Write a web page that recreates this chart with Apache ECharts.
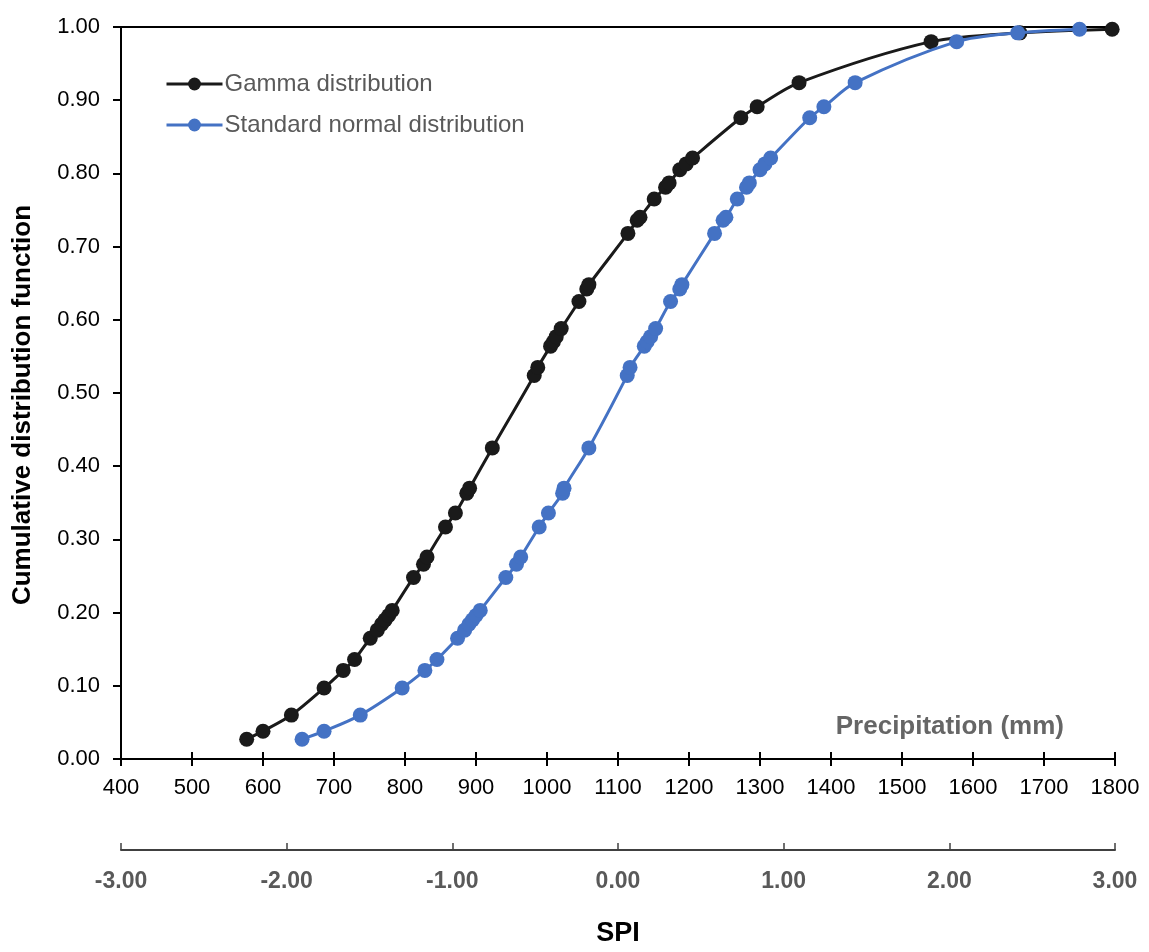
<!DOCTYPE html>
<html>
<head>
<meta charset="utf-8">
<script src="https://cdn.jsdelivr.net/npm/echarts@6/dist/echarts.min.js"></script>
<style>
html,body{margin:0;padding:0;background:#fff;}
#chart{width:1149px;height:952px;}
</style>
</head>
<body>
<div id="chart"></div>
<script>
// Cumulative probabilities (shared by both series)
var cdfValues = [0.027, 0.038, 0.060, 0.097, 0.121, 0.136, 0.165, 0.176, 0.184, 0.190, 0.196, 0.203, 0.248, 0.266, 0.276, 0.317, 0.336, 0.363, 0.370, 0.425, 0.524, 0.535, 0.564, 0.570, 0.577, 0.588, 0.625, 0.642, 0.648, 0.718, 0.736, 0.740, 0.765, 0.781, 0.787, 0.805, 0.813, 0.821, 0.876, 0.891, 0.924, 0.980, 0.992, 0.997];
// Precipitation (mm) positions of the Gamma distribution points
var gammaPrecip = [577, 600, 640, 686, 713, 729, 751, 761, 767, 772, 777, 782, 812, 826, 831, 857, 871, 887, 891, 923, 982, 987, 1005, 1009, 1013, 1020, 1045, 1056, 1059, 1114, 1127, 1131, 1151, 1167, 1172, 1187, 1196, 1205, 1273, 1296, 1355, 1541, 1666, 1796];
// Precipitation (mm) positions of the Standard normal distribution points
var normalPrecip = [655, 686, 737, 796, 828, 845, 874, 884, 890, 895, 900, 906, 942, 957, 963, 989, 1002, 1022, 1024, 1059, 1113, 1117, 1137, 1141, 1146, 1153, 1174, 1187, 1190, 1236, 1248, 1252, 1268, 1281, 1285, 1300, 1307, 1315, 1370, 1390, 1434, 1577, 1663, 1750];
var seriesNames = ['Gamma distribution', 'Standard normal distribution'];
var precipTicks = {min: 400, max: 1800, interval: 100};
var spiTicks = {min: -3, max: 3, interval: 1};
var cdfTicks = {min: 0, max: 1, interval: 0.1};

function pairs(xs, ys) {
  var out = [];
  for (var i = 0; i < xs.length; i++) out.push([xs[i], ys[i]]);
  return out;
}

var chart = echarts.init(document.getElementById('chart'), null, {renderer: 'canvas'});
var FONT = '"Liberation Sans", Arial, sans-serif';
var option = {
  backgroundColor: '#ffffff',
  animation: false,
  textStyle: {fontFamily: FONT},
  grid: {left: 121, right: 34, top: 27, bottom: 186, containLabel: false},
  legend: {
    left: 160, top: 67, orient: 'vertical', itemGap: 17,
    itemWidth: 56, itemHeight: 16,
    lineStyle: {width: 3},
    textStyle: {fontSize: 24, color: '#595959', fontFamily: FONT, padding: [0, 0, 0, -3]},
    data: seriesNames
  },
  xAxis: [
    {
      type: 'value', position: 'bottom',
      min: precipTicks.min, max: precipTicks.max, interval: precipTicks.interval,
      axisLine: {onZero: false, lineStyle: {color: '#000', width: 2}},
      axisTick: {show: true, inside: false, length: 7, lineStyle: {color: '#000', width: 2}},
      axisLabel: {fontSize: 22, color: '#000', margin: 18, fontFamily: FONT,
        formatter: function (v) { return String(v); }},
      splitLine: {show: false}
    },
    {
      type: 'value', position: 'bottom',
      min: precipTicks.min, max: precipTicks.max, interval: precipTicks.interval,
      axisLine: {show: false, onZero: false},
      axisTick: {show: true, inside: true, length: 7, lineStyle: {color: '#000', width: 2}},
      axisLabel: {show: false},
      splitLine: {show: false}
    },
    {
      type: 'value', position: 'top',
      min: precipTicks.min, max: precipTicks.max,
      axisLine: {show: true, onZero: false, lineStyle: {color: '#000', width: 2}},
      axisTick: {show: false}, axisLabel: {show: false}, splitLine: {show: false}
    },
    {
      type: 'value', position: 'bottom', offset: 91,
      min: spiTicks.min, max: spiTicks.max, interval: spiTicks.interval,
      name: 'SPI', nameLocation: 'middle', nameGap: 70,
      nameTextStyle: {fontSize: 27, fontWeight: 'bold', color: '#000', fontFamily: FONT},
      axisLine: {onZero: false, lineStyle: {color: '#404040', width: 2}},
      axisTick: {show: true, inside: true, length: 7, lineStyle: {color: '#404040', width: 1.5}},
      axisLabel: {fontSize: 23, color: '#595959', fontWeight: 'bold', margin: 20, fontFamily: FONT,
        formatter: function (v) { return v.toFixed(2); }},
      splitLine: {show: false}
    }
  ],
  yAxis: [{
    type: 'value',
    min: cdfTicks.min, max: cdfTicks.max, interval: cdfTicks.interval,
    axisLine: {show: true, onZero: false, lineStyle: {color: '#000', width: 2}},
    axisTick: {show: true, inside: false, length: 8, lineStyle: {color: '#000', width: 2}},
    axisLabel: {fontSize: 22, color: '#000', margin: 21, fontFamily: FONT,
      formatter: function (v) { return v.toFixed(2); }},
    splitLine: {show: false}
  }],
  graphic: [
    {
      type: 'text', x: 1064, y: 727,
      style: {text: 'Precipitation (mm)', fontSize: 26, fontWeight: 'bold', fill: '#666666',
        fontFamily: FONT, align: 'right', verticalAlign: 'middle'}
    },
    {
      type: 'text', x: 23, y: 405, rotation: Math.PI / 2,
      style: {text: 'Cumulative distribution function', fontSize: 26, fontWeight: 'bold', fill: '#000',
        fontFamily: FONT, align: 'center', verticalAlign: 'middle'}
    }
  ],
  series: [
    {
      name: seriesNames[0], type: 'line', xAxisIndex: 0, yAxisIndex: 0,
      data: pairs(gammaPrecip, cdfValues), smooth: 0.3,
      symbol: 'circle', symbolSize: 15,
      lineStyle: {color: '#1a1a1a', width: 3},
      itemStyle: {color: '#1a1a1a'}, z: 2
    },
    {
      name: seriesNames[1], type: 'line', xAxisIndex: 0, yAxisIndex: 0,
      data: pairs(normalPrecip, cdfValues), smooth: 0.3,
      symbol: 'circle', symbolSize: 15,
      lineStyle: {color: '#4472C4', width: 3},
      itemStyle: {color: '#4472C4'}, z: 3
    }
  ]
};
chart.setOption(option);
</script>
</body>
</html>
